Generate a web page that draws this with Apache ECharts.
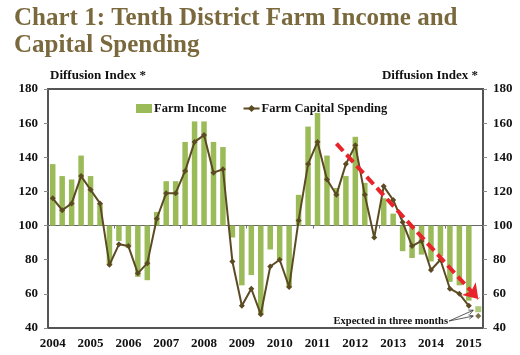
<!DOCTYPE html>
<html>
<head>
<meta charset="utf-8">
<script src="https://cdn.jsdelivr.net/npm/echarts@6/dist/echarts.min.js"></script>
<style>html,body{margin:0;padding:0;background:#fff;}#c{width:520px;height:355px;}</style>
</head>
<body>
<div id="c"></div>
<script>
// ---- data ----
const years = [2004, 2005, 2006, 2007, 2008, 2009, 2010, 2011, 2012, 2013, 2014, 2015];
const quarters = ['Q1', 'Q2', 'Q3', 'Q4'];
const farmIncome = [136,129,127,141,129,113,77,91,87,70,68,108,126,126,149,161,161,149,146,93,65,71,48,86,80,64,118,158,166,141,122,129,152,125,100,116,107,85,81,83,79,82,67,65,56];
const farmCapitalSpending = [116,109,113,129,121,113,77,89,88,72,78,104,119,119,132,149,153,131,133,79,53,63,48,76,80,64,103,136,149,127,118,136,147,118,93,123,115,102,88,91,74,80,63,60,53];
const expectedIncome = 51;
const expectedSpending = 47;
const trendStart = { index: 30, value: 148 };
const trendEnd = { index: 45, value: 57 };
const yTicks = [40, 60, 80, 100, 120, 140, 160, 180];
const BASE = 100;

// categories: 2004Q1 .. 2015Q1 plus one "expected" slot
const categories = [];
years.forEach(y => quarters.forEach(q => categories.push(y + ' ' + q)));
while (categories.length > farmIncome.length) categories.pop();
categories.push('Expected');
const expIdx = categories.length - 1;

const FONT = '"Liberation Serif", "DejaVu Serif", serif';
const TXT = '#111';

const barData = farmIncome.map(v => v - BASE).concat([null]);
const lineData = farmCapitalSpending.map(v => v - BASE).concat([null]);

const chart = echarts.init(document.getElementById('c'), null, { renderer: 'canvas' });
const yFmt = v => String(v + BASE);
const yMin = yTicks[0] - BASE, yMax = yTicks[yTicks.length - 1] - BASE;

const option = {
  animation: false,
  backgroundColor: '#fff',
  title: {
    text: 'Chart 1: Tenth District Farm Income and\nCapital Spending',
    left: 9, top: 0,
    textStyle: { fontFamily: FONT, fontSize: 25, fontWeight: 'bold', color: '#7a693c', lineHeight: 27 }
  },
  legend: {
    top: 97, left: 131, itemGap: 16,
    itemWidth: 16, itemHeight: 9,
    textStyle: { fontFamily: FONT, fontSize: 12.5, fontWeight: 'bold', color: TXT, padding: [0, 0, 0, -3] },
    data: [
      { name: 'Farm Income', icon: 'rect' },
      { name: 'Farm Capital Spending' }
    ]
  },
  grid: {
    left: 48, right: 37, top: 89, bottom: 27,
    show: true, borderColor: '#555', borderWidth: 2, backgroundColor: 'transparent'
  },
  xAxis: [
    {
      type: 'category', data: categories, position: 'bottom',
      axisLine: { show: false, onZero: false },
      axisTick: { show: false },
      axisLabel: {
        interval: 0, margin: 9,
        fontFamily: FONT, fontSize: 13, fontWeight: 'bold', color: TXT,
        formatter: v => (v.endsWith('Q1') ? v.slice(0, 4) : '')
      },
      splitLine: { show: false }
    },
    {
      type: 'category', data: categories, position: 'bottom',
      axisLine: { show: true, onZero: true, lineStyle: { color: '#666', width: 1 } },
      axisTick: { show: true, length: 3, lineStyle: { color: '#777' } },
      axisLabel: { show: false },
      splitLine: { show: false }
    }
  ],
  yAxis: [
    {
      type: 'value', position: 'left', min: yMin, max: yMax, interval: 20,
      axisLine: { show: true, lineStyle: { color: '#555', width: 2 } },
      axisTick: { show: true, length: 4, lineStyle: { color: '#888' } },
      axisLabel: { formatter: yFmt, fontFamily: FONT, fontSize: 13, fontWeight: 'bold', color: TXT, margin: 10 },
      splitLine: { show: false }
    },
    {
      type: 'value', position: 'right', min: yMin, max: yMax, interval: 20,
      axisLine: { show: true, lineStyle: { color: '#555', width: 2 } },
      axisTick: { show: true, length: 4, lineStyle: { color: '#888' } },
      axisLabel: { formatter: yFmt, fontFamily: FONT, fontSize: 13, fontWeight: 'bold', color: TXT, margin: 10 },
      splitLine: { show: false }
    }
  ],
  series: [
    {
      name: 'Farm Income', type: 'bar', xAxisIndex: 0, yAxisIndex: 0,
      data: barData, barWidth: 5.5,
      itemStyle: { color: '#9bbb59' }, z: 2
    },
    {
      name: 'Farm Capital Spending', type: 'line', xAxisIndex: 0, yAxisIndex: 0,
      data: lineData, connectNulls: false,
      symbol: 'diamond', symbolSize: 6,
      lineStyle: { color: '#5c4a22', width: 2 },
      itemStyle: { color: '#5c4a22' }, z: 4,
      markLine: {
        silent: true, symbol: ['none', 'arrow'], symbolSize: [14, 14], z: 6,
        label: { show: false },
        lineStyle: { color: '#e8232a', width: 4, type: [10, 5], opacity: 1 },
        data: [[
          { coord: [trendStart.index, trendStart.value - BASE] },
          { coord: [trendEnd.index, trendEnd.value - BASE] }
        ]]
      }
    },
    {
      name: 'Expected Income', type: 'scatter', xAxisIndex: 0, yAxisIndex: 0,
      data: [[expIdx, expectedIncome - BASE]],
      symbol: 'rect', symbolSize: 6, itemStyle: { color: '#9bbb59' }, z: 5
    },
    {
      name: 'Expected Spending', type: 'scatter', xAxisIndex: 0, yAxisIndex: 0,
      data: [[expIdx, expectedSpending - BASE]],
      symbol: 'diamond', symbolSize: 6, itemStyle: { color: '#5c4a22' }, z: 5
    }
  ]
};
chart.setOption(option);

// annotation anchored to the expected markers
const pSq = chart.convertToPixel({ gridIndex: 0 }, [expIdx, expectedIncome - BASE]);
const pDi = chart.convertToPixel({ gridIndex: 0 }, [expIdx, expectedSpending - BASE]);
const tx = 448, ty = 321;
function arrow(x1, y1, x2, y2) {
  const ang = Math.atan2(y2 - y1, x2 - x1), L = 5, a = 0.45;
  return [
    { type: 'line', shape: { x1, y1, x2, y2 }, style: { stroke: '#333', lineWidth: 0.8 } },
    { type: 'polyline', shape: { points: [
      [x2 - L * Math.cos(ang - a), y2 - L * Math.sin(ang - a)], [x2, y2],
      [x2 - L * Math.cos(ang + a), y2 - L * Math.sin(ang + a)] ] },
      style: { stroke: '#333', lineWidth: 0.8, fill: null } }
  ];
}
chart.setOption({
  graphic: [
    { type: 'text', left: 50, top: 69, style: { text: 'Diffusion Index *', font: 'bold 13px ' + FONT, fill: TXT } },
    { type: 'text', right: 42, top: 69, style: { text: 'Diffusion Index *', font: 'bold 13px ' + FONT, fill: TXT } },
    { type: 'text', x: tx, y: ty, style: { text: 'Expected in three months', font: 'bold 10.5px ' + FONT, fill: TXT, align: 'right', verticalAlign: 'middle' } }
  ].concat(arrow(tx + 1, ty, pSq[0] - 5, pSq[1] + 1), arrow(tx + 1, ty, pDi[0] - 5, pDi[1]))
});
</script>
</body>
</html>
